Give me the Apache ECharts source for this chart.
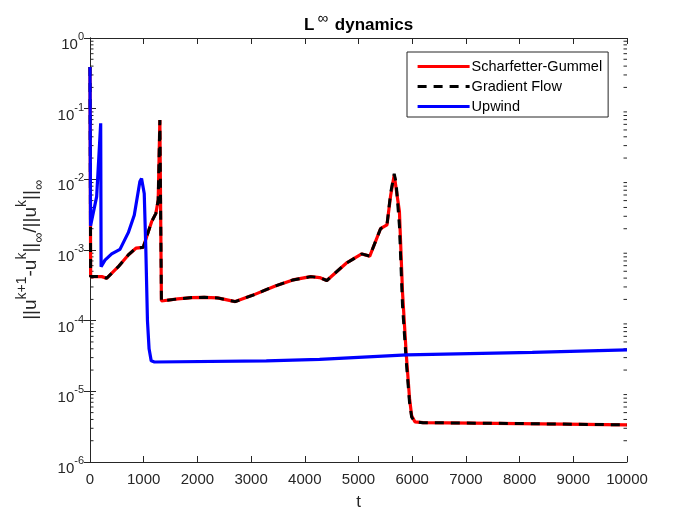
<!DOCTYPE html>
<html>
<head>
<meta charset="utf-8">
<script src="https://cdn.jsdelivr.net/npm/echarts@6/dist/echarts.min.js"></script>
<style>
html,body{margin:0;padding:0;background:#fff;}
#chart{width:692px;height:519px;}
</style>
</head>
<body>
<div id="chart"></div>
<script>
// ---- data ----
var tSG = [0, 12, 220, 310, 527, 713, 855, 991, 1066, 1146, 1227, 1270, 1301, 1314, 1330, 1367, 1632, 1900, 2127, 2375, 2706, 3036, 3450, 3779, 4110, 4275, 4410, 4771, 5060, 5210, 5410, 5530, 5600, 5665, 5700, 5762, 5820, 5890, 5950, 5990, 6050, 6200, 8000, 10000];
var scharfetterGummel = [0.39, 4.2e-4, 4.2e-4, 3.98e-4, 5.8e-4, 8.5e-4, 1.06e-3, 1.09e-3, 1.63e-3, 2.5e-3, 3.3e-3, 5.1e-3, 0.069, 0.073, 1.9e-4, 1.86e-4, 2.03e-4, 2.12e-4, 2.14e-4, 2.1e-4, 1.86e-4, 2.3e-4, 3.1e-4, 3.77e-4, 4.2e-4, 4.07e-4, 3.7e-4, 6.5e-4, 8.8e-4, 8.2e-4, 2.0e-3, 2.26e-3, 6.0e-3, 1.15e-2, 1.1e-2, 3.5e-3, 2.5e-4, 3.3e-5, 8e-6, 4.5e-6, 3.7e-6, 3.6e-6, 3.5e-6, 3.35e-6];
var gradientFlow = [0.39, 4.2e-4, 4.2e-4, 3.98e-4, 5.8e-4, 8.5e-4, 1.06e-3, 1.09e-3, 1.63e-3, 2.5e-3, 3.3e-3, 5.1e-3, 0.069, 0.073, 1.9e-4, 1.86e-4, 2.03e-4, 2.12e-4, 2.14e-4, 2.1e-4, 1.86e-4, 2.3e-4, 3.1e-4, 3.77e-4, 4.2e-4, 4.07e-4, 3.7e-4, 6.5e-4, 8.8e-4, 8.2e-4, 2.0e-3, 2.26e-3, 6.5e-3, 1.2e-2, 9.0e-3, 2.2e-3, 1.6e-4, 2.6e-5, 7e-6, 4.3e-6, 3.7e-6, 3.6e-6, 3.5e-6, 3.35e-6];
var tUp = [0, 10, 124, 199, 207, 279, 403, 558, 713, 824, 929, 960, 1010, 1040, 1070, 1100, 1140, 1200, 3283, 4275, 5900, 8237, 10000];
var upwind = [0.39, 2.2e-3, 5.7e-3, 0.062, 5.8e-4, 7.2e-4, 8.8e-4, 1.02e-3, 1.76e-3, 3.1e-3, 9.3e-3, 1.03e-2, 6.3e-3, 1e-3, 1e-4, 4e-5, 2.7e-5, 2.6e-5, 2.7e-5, 2.84e-5, 3.27e-5, 3.57e-5, 3.85e-5];
var xTicks = [0, 1000, 2000, 3000, 4000, 5000, 6000, 7000, 8000, 9000, 10000];
var yDecades = [-6, -5, -4, -3, -2, -1, 0];
var minorMultipliers = [2, 3, 4, 5, 6, 7, 8, 9];

function pairs(xs, ys) { return xs.map(function (x, i) { return [x, ys[i]]; }); }
var minorVals = [];
yDecades.slice(0, -1).forEach(function (k) {
  minorMultipliers.forEach(function (m) { minorVals.push([0, m * Math.pow(10, k)]); });
});

var TXT = '#262626';
var FONT = 'Liberation Sans, Arial, Helvetica, sans-serif';

var chart = echarts.init(document.getElementById('chart'), null, {renderer: 'canvas'});
var option = {
  animation: false,
  backgroundColor: '#ffffff',
  textStyle: {fontFamily: FONT, color: TXT},
  title: {
    text: '{b|L}{s|∞}{b| dynamics}',
    left: 299, top: 11,
    textStyle: {
      rich: {
        b: {fontFamily: FONT, fontSize: 17, fontWeight: 'bold', color: '#000', lineHeight: 18},
        s: {fontFamily: FONT, fontSize: 15, fontWeight: 'normal', color: '#000', lineHeight: 14, padding: [0, 2, 12, 3]}
      }
    }
  },
  legend: {
    orient: 'vertical',
    left: 407, top: 52,
    padding: [7, 6, 3, 9],
    itemWidth: 52, itemHeight: 14, itemGap: 5,
    backgroundColor: '#fff',
    borderColor: TXT, borderWidth: 1, borderRadius: 0,
    itemStyle: {opacity: 0},
    lineStyle: {width: 3.2},
    data: ['Scharfetter-Gummel', 'Gradient Flow', 'Upwind'],
    textStyle: {fontFamily: FONT, fontSize: 14.5, color: '#000', padding: [0, 0, 0, -3]}
  },
  grid: {left: 90, right: 65, top: 38, bottom: 57, containLabel: false},
  xAxis: [{
    type: 'value', min: 0, max: 10000, interval: 1000,
    name: 't', nameLocation: 'middle', nameGap: 32,
    nameTextStyle: {fontFamily: FONT, fontSize: 17, color: TXT},
    axisLine: {show: true, lineStyle: {color: TXT, width: 1}},
    axisTick: {show: true, inside: true, length: 6, lineStyle: {color: TXT}},
    axisLabel: {fontFamily: FONT, fontSize: 15, color: TXT, margin: 10,
      formatter: function (v) { return xTicks.indexOf(v) >= 0 ? String(v) : ''; }},
    splitLine: {show: false}
  }, {
    type: 'value', min: 0, max: 10000, interval: 1000, position: 'top',
    axisLine: {show: true, lineStyle: {color: TXT, width: 1}},
    axisTick: {show: true, inside: true, length: 6, lineStyle: {color: TXT}},
    axisLabel: {show: false}, splitLine: {show: false}
  }],
  yAxis: [{
    type: 'log', logBase: 10, min: 1e-6, max: 1, splitNumber: 6,
    name: '{b|||u}{p|k+1}{b|-u}{p|k}{b|||}{q|∞}{b|/||u}{p|k}{b|||}{q|∞}',
    nameLocation: 'middle', nameGap: 36, nameRotate: 90,
    nameTextStyle: {
      rich: {
        b: {fontFamily: FONT, fontSize: 19, color: TXT, lineHeight: 18},
        p: {fontFamily: FONT, fontSize: 14, color: TXT, lineHeight: 14, padding: [0, 0, 17, 0]},
        q: {fontFamily: FONT, fontSize: 14, color: TXT, lineHeight: 14, padding: [17, 0, 0, 0]}
      }
    },
    axisLine: {show: true, lineStyle: {color: TXT, width: 1}},
    axisTick: {show: true, inside: true, length: 6, lineStyle: {color: TXT}},
    axisLabel: {
      margin: 6,
      formatter: function (v) {
        var e = Math.round(Math.log10(v));
        return '{b|10}{s|' + e + '}';
      },
      rich: {
        b: {fontFamily: FONT, fontSize: 15, color: TXT, lineHeight: 16, padding: [14, 0, 0, 0]},
        s: {fontFamily: FONT, fontSize: 11, color: TXT, lineHeight: 12, padding: [8, 0, 10, 0]}
      }
    },
    splitLine: {show: false}
  }, {
    type: 'log', logBase: 10, min: 1e-6, max: 1, splitNumber: 6, position: 'right',
    axisLine: {show: true, lineStyle: {color: TXT, width: 1}},
    axisTick: {show: true, inside: true, length: 6, lineStyle: {color: TXT}},
    axisLabel: {show: false}, splitLine: {show: false}
  }],
  series: [{
    name: 'minor', type: 'custom', xAxisIndex: 0, yAxisIndex: 0, silent: true, z: 1,
    data: minorVals,
    renderItem: function (params, api) {
      var cs = params.coordSys;
      var y = api.coord([0, api.value(1)])[1];
      var st = {stroke: TXT, lineWidth: 1};
      return {type: 'group', children: [
        {type: 'line', shape: {x1: cs.x, y1: y, x2: cs.x + 3.5, y2: y}, style: st},
        {type: 'line', shape: {x1: cs.x + cs.width, y1: y, x2: cs.x + cs.width - 3.5, y2: y}, style: st}
      ]};
    }
  }, {
    name: 'Scharfetter-Gummel', type: 'line', symbol: 'none', z: 3,
    data: pairs(tSG, scharfetterGummel),
    lineStyle: {color: '#ff0000', width: 3.2},
    itemStyle: {color: '#ff0000'}
  }, {
    name: 'Gradient Flow', type: 'line', symbol: 'none', z: 4,
    data: pairs(tSG, gradientFlow),
    lineStyle: {color: '#000000', width: 3, type: [9, 7]},
    itemStyle: {color: '#000000'}
  }, {
    name: 'Upwind', type: 'line', symbol: 'none', z: 5,
    data: pairs(tUp, upwind),
    lineStyle: {color: '#0000ff', width: 3.2},
    itemStyle: {color: '#0000ff'}
  }]
};
chart.setOption(option);
</script>
</body>
</html>
